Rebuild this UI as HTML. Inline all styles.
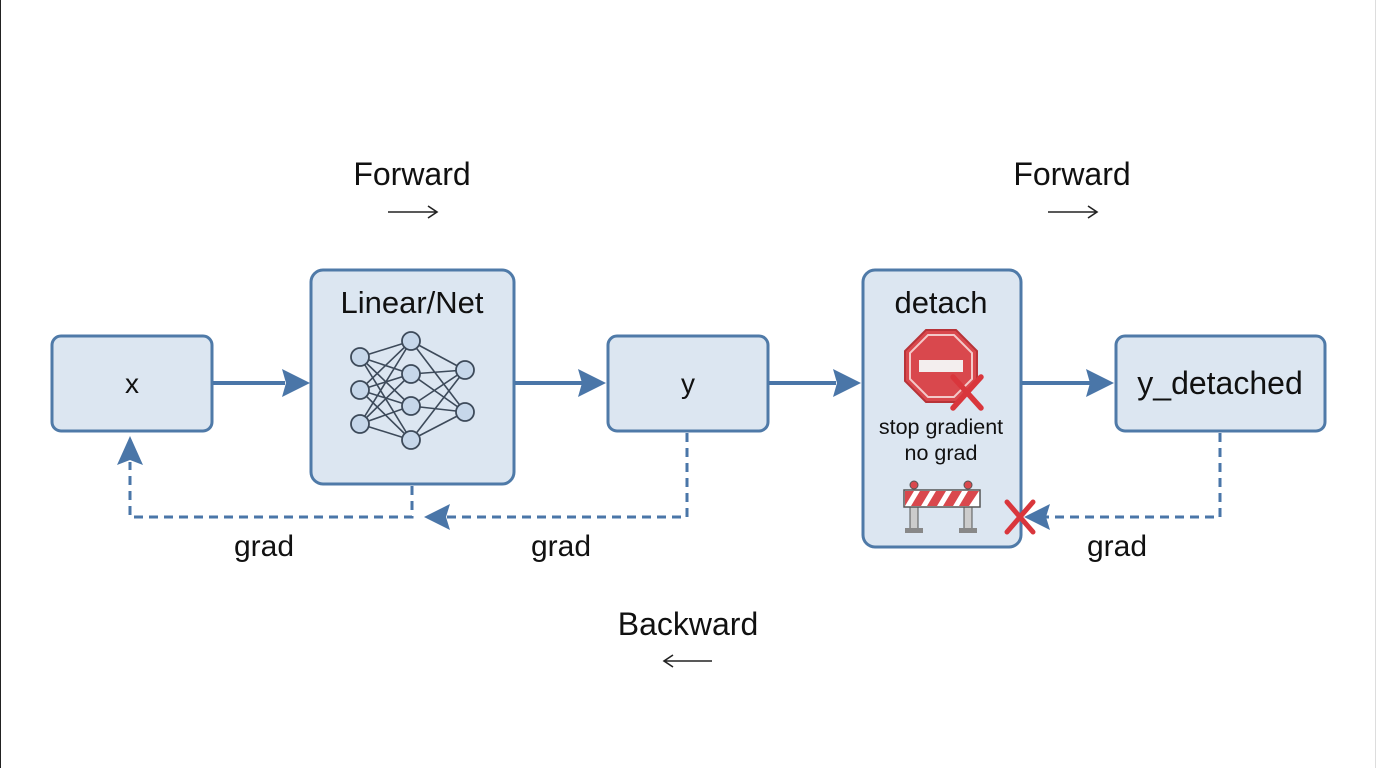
<!DOCTYPE html>
<html><head><meta charset="utf-8"><style>
html,body{margin:0;padding:0;background:#fff;}
svg{display:block;font-family:"Liberation Sans",sans-serif;}
</style></head><body>
<svg width="1376" height="768" viewBox="0 0 1376 768">
<line x1="0.5" y1="0" x2="0.5" y2="768" stroke="#222" stroke-width="1"/>
<line x1="1375.5" y1="0" x2="1375.5" y2="768" stroke="#ddd" stroke-width="1"/>
<g fill="#dce6f1" stroke="#4f7aa8" stroke-width="3">
<rect x="52" y="336" width="160" height="95" rx="9"/>
<rect x="311" y="270" width="203" height="214" rx="12"/>
<rect x="608" y="336" width="160" height="95" rx="9"/>
<rect x="863" y="270" width="158" height="277" rx="12"/>
<rect x="1116" y="336" width="209" height="95" rx="9"/>
</g>
<g stroke="#4a76a8" stroke-width="4" fill="none">
<line x1="213" y1="383" x2="285" y2="383"/>
<line x1="515" y1="383" x2="582" y2="383"/>
<line x1="769" y1="383" x2="836" y2="383"/>
<line x1="1022" y1="383" x2="1090" y2="383"/>
</g>
<g fill="#4a76a8">
<path d="M310,383 L282,369 L286,383 L282,397 Z"/>
<path d="M606,383 L578,369 L582,383 L578,397 Z"/>
<path d="M861,383 L833,369 L837,383 L833,397 Z"/>
<path d="M1114,383 L1086,369 L1090,383 L1086,397 Z"/>
<path d="M424,517 L450,504 L446,517 L450,530 Z"/>
<path d="M1024,517 L1050,504 L1046,517 L1050,530 Z"/>
<path d="M130,436 L117,465 L130,460 L143,465 Z"/>
</g>
<g stroke="#4a76a8" stroke-width="3" fill="none" stroke-dasharray="9,6">
<path d="M1220,433 L1220,517 L1046,517"/>
<path d="M687,433 L687,517 L446,517"/>
<path d="M412,486 L412,517 L130,517 L130,462"/>
</g>
<g stroke="#d9363c" stroke-width="5" stroke-linecap="round">
<line x1="1007" y1="502" x2="1033" y2="532"/><line x1="1033" y1="502" x2="1007" y2="532"/>
</g>
<g stroke="#3d4a5a" stroke-width="1.6">
<line x1="360" y1="357" x2="411" y2="341"/><line x1="360" y1="357" x2="411" y2="374"/><line x1="360" y1="357" x2="411" y2="406"/><line x1="360" y1="357" x2="411" y2="440"/>
<line x1="360" y1="390" x2="411" y2="341"/><line x1="360" y1="390" x2="411" y2="374"/><line x1="360" y1="390" x2="411" y2="406"/><line x1="360" y1="390" x2="411" y2="440"/>
<line x1="360" y1="424" x2="411" y2="341"/><line x1="360" y1="424" x2="411" y2="374"/><line x1="360" y1="424" x2="411" y2="406"/><line x1="360" y1="424" x2="411" y2="440"/>
<line x1="411" y1="341" x2="465" y2="370"/><line x1="411" y1="341" x2="465" y2="412"/>
<line x1="411" y1="374" x2="465" y2="370"/><line x1="411" y1="374" x2="465" y2="412"/>
<line x1="411" y1="406" x2="465" y2="370"/><line x1="411" y1="406" x2="465" y2="412"/>
<line x1="411" y1="440" x2="465" y2="370"/><line x1="411" y1="440" x2="465" y2="412"/>
</g>
<g fill="#c6d7ea" stroke="#3d4a5a" stroke-width="1.8">
<circle cx="360" cy="357" r="9"/><circle cx="360" cy="390" r="9"/><circle cx="360" cy="424" r="9"/>
<circle cx="411" cy="341" r="9"/><circle cx="411" cy="374" r="9"/><circle cx="411" cy="406" r="9"/><circle cx="411" cy="440" r="9"/>
<circle cx="465" cy="370" r="9"/><circle cx="465" cy="412" r="9"/>
</g>
<g transform="translate(941,366)">
<polygon points="-15,-36 15,-36 36,-15 36,15 15,36 -15,36 -36,15 -36,-15" fill="#d9484d" stroke="#b83338" stroke-width="2"/>
<polygon points="-13,-31 13,-31 31,-13 31,13 13,31 -13,31 -31,13 -31,-13" fill="none" stroke="#f3c9c9" stroke-width="2"/>
<rect x="-22" y="-6" width="44" height="12" fill="#f3eeee"/>
</g>
<g stroke="#d9363c" stroke-width="5.5" stroke-linecap="round">
<line x1="953" y1="377" x2="981" y2="408"/><line x1="981" y1="377" x2="953" y2="408"/>
</g>
<g>
<circle cx="914" cy="485" r="4" fill="#d9484d" stroke="#555"/><circle cx="968" cy="485" r="4" fill="#d9484d" stroke="#555"/>
<rect x="910" y="490" width="8" height="40" fill="#ccc" stroke="#555"/>
<rect x="964" y="490" width="8" height="40" fill="#ccc" stroke="#555"/>
<rect x="905" y="528" width="18" height="5" fill="#888"/><rect x="959" y="528" width="18" height="5" fill="#888"/>
<rect x="904" y="490" width="76" height="17" fill="#fff" stroke="#555" stroke-width="1.5"/>
<g fill="#d9484d"><path d="M905,491 L914,491 L905,506Z"/><path d="M920,491 L930,491 L921,506 L911,506Z"/><path d="M936,491 L946,491 L937,506 L927,506Z"/><path d="M952,491 L962,491 L953,506 L943,506Z"/><path d="M968,491 L979,491 L969,506 L959,506Z"/></g>
</g>
<g fill="#111" text-anchor="middle">
<text x="132" y="393" font-size="28">x</text>
<text x="412" y="313" font-size="31">Linear/Net</text>
<text x="688" y="393" font-size="28">y</text>
<text x="941" y="313" font-size="31">detach</text>
<text x="941" y="434" font-size="21.5">stop gradient</text>
<text x="941" y="460" font-size="21.5">no grad</text>
<text x="1220" y="394" font-size="32">y_detached</text>
<text x="412" y="185" font-size="32">Forward</text>
<text x="1072" y="185" font-size="32">Forward</text>
<text x="688" y="635" font-size="32">Backward</text>
<text x="264" y="556" font-size="30">grad</text>
<text x="561" y="556" font-size="30">grad</text>
<text x="1117" y="556" font-size="30">grad</text>
</g>
<g stroke="#222" stroke-width="1.6" fill="none">
<path d="M388,212 L436,212 M428,206 L437,212 L428,218"/>
<path d="M1048,212 L1096,212 M1088,206 L1097,212 L1088,218"/>
<path d="M665,661 L712,661 M673,655 L664,661 L673,667"/>
</g>
</svg>
</body></html>
